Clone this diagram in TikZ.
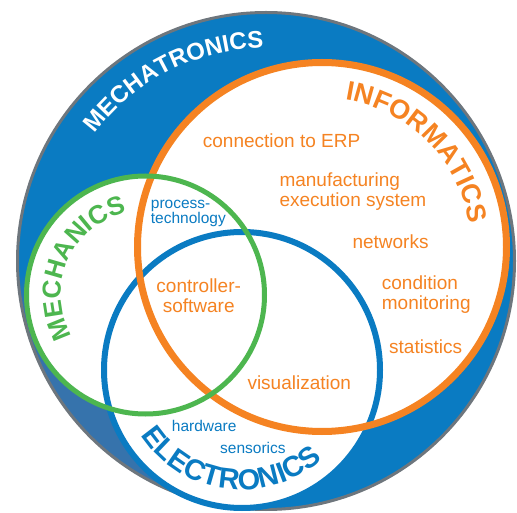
\documentclass[tikz,border=0pt]{standalone}
\usepackage{fontspec}
\setmainfont{Liberation Sans}
\usetikzlibrary{decorations.text}
\definecolor{mtblue}{HTML}{0A7BC2}
\definecolor{shadeblue}{HTML}{3673AC}
\definecolor{rimgray}{HTML}{6E767D}
\definecolor{infoorange}{HTML}{F58322}
\definecolor{mechgreen}{HTML}{4DB64F}
% text bent along a circle: centre, radius, start angle, end angle, text
\newcommand{\arctext}[5]{\path[decorate,decoration={text along path,text align=center,text={#5}}] (#1) ++(#3:#2) arc[start angle=#3,end angle=#4,radius=#2];}
\tikzset{
  ring/.style={line width=#1},
  orangeitem/.style={inner sep=0pt,text=infoorange,font=\fontsize{19}{20}\selectfont},
  blueitem/.style={inner sep=0pt,text=mtblue,font=\fontsize{15.5}{15.5}\selectfont}
}

\begin{document}
\begin{tikzpicture}[x=1pt,y=1pt]
\useasboundingbox (0,0) rectangle (517,512);

\coordinate (O) at (266,251);
\coordinate (I) at (322,265);
\coordinate (M) at (145.5,217);
\coordinate (E) at (242,142);

% mechatronics disc with its shadow
\fill[mtblue] (O) circle[radius=248.5];
\begin{scope}
\clip (O) circle[radius=248.5];
\shade[top color=mtblue,bottom color=shadeblue] (0,208) rectangle (242,238);
\fill[shadeblue] (0,0) rectangle (242,208.5);
\end{scope}
\draw[rimgray,line width=3] (O) circle[radius=248.5];

% white fields
\fill[white] (I) circle[radius=184.5];
\fill[white] (M) circle[radius=119];
\fill[white] (E) circle[radius=138];

% rings
\draw[mtblue,ring=6] (E) circle[radius=138];
\draw[infoorange,ring=7] (I) circle[radius=184.5];
\draw[mechgreen,ring=5] (M) circle[radius=119];

% titles
\arctext{O}{213}{167}{67}{|\fontsize{24}{24}\selectfont\bfseries\color{white}|MECHATRONICS}
\arctext{I}{149}{105}{-15}{|\fontsize{27}{27}\selectfont\bfseries\color{infoorange}|INFORMATICS}
\arctext{M}{84.5}{226}{86}{|\fontsize{26}{26}\selectfont\bfseries\color{mechgreen}|MECHANICS}
\arctext{E}{120}{202.5}{322.5}{|\fontsize{29}{29}\selectfont\bfseries\color{mtblue}|ELECTRONICS}

% fields
\node[orangeitem,anchor=base west] (erp) at (202.7,364.7) {connection to ERP};
\node[orangeitem,anchor=base west,align=left] (mes) at (279.3,305.3) {manufacturing\\execution system};
\node[orangeitem,anchor=base west] (net) at (352.3,263.7) {networks};
\node[orangeitem,anchor=base west,align=left] (cm) at (381.7,202) {condition\\monitoring};
\node[orangeitem,anchor=base west] (stat) at (389,158.7) {statistics};
\node[orangeitem,anchor=base west] (vis) at (247.3,122.7) {visualization};
\node[orangeitem,anchor=base,align=center] (ctrl) at (198.7,199.3) {controller-\\software};
\node[blueitem,anchor=base west,align=left] (proc) at (150.7,288) {process-\\technology};
\node[blueitem,anchor=base west] (hw) at (171.7,80.3) {hardware};
\node[blueitem,anchor=base west] (sens) at (220,58.7) {sensorics};

\end{tikzpicture}
\end{document}
